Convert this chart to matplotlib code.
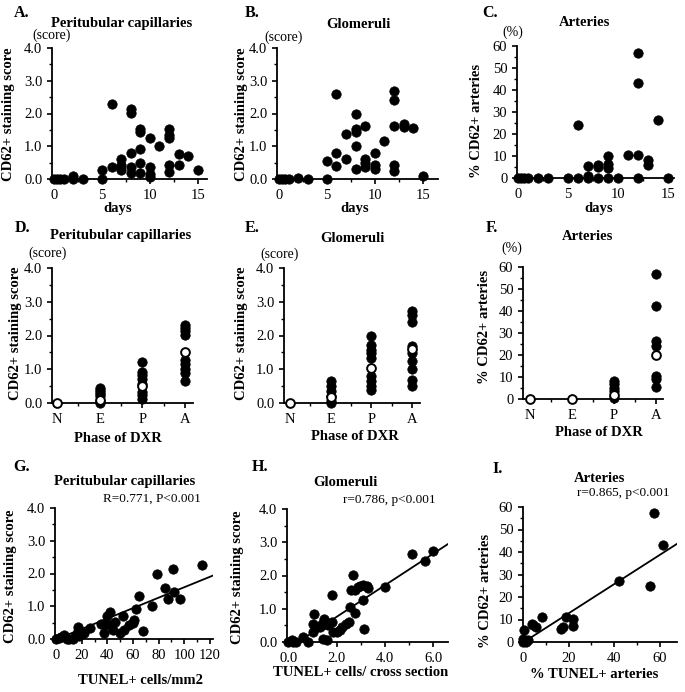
import matplotlib.pyplot as plt
from matplotlib.ticker import MultipleLocator, FormatStrFormatter

plt.rcParams['font.family'] = ['Liberation Serif', 'DejaVu Serif']

# ---- data ----
# A-C: time course (days after transplant)
a_days = [0, 0.3, 0.6, 1, 2, 2, 3, 5, 5, 6, 6, 7, 7, 7, 8, 8, 8, 8, 8, 9, 9, 9, 9, 9,
          10, 10, 10, 10, 11, 12, 12, 12, 12, 12, 13, 13, 14, 15]
a_score = [0, 0, 0, 0, 0.1, 0, 0, 0, 0.27, 0.37, 2.28, 0.6, 0.43, 0.27, 2.15, 2.03, 0.8, 0.37, 0.17,
           1.54, 1.44, 0.93, 0.5, 0.17, 1.24, 0.37, 0.15, 0.07, 1.0, 1.54, 1.34, 1.24, 0.43, 0.22,
           0.76, 0.43, 0.7, 0.27]

b_days = [0, 0.3, 0.6, 1, 2, 3, 5, 5, 6, 6, 6, 7, 7, 8, 8, 8, 8, 8, 9, 9, 9, 9, 10, 10, 10,
          11, 12, 12, 12, 12, 12, 13, 13, 14, 15]
b_score = [0, 0, 0, 0, 0.03, 0, 0, 0.55, 2.6, 0.8, 0.4, 1.38, 0.6, 2.0, 1.52, 1.45, 1.0, 0.3,
           1.62, 0.62, 0.5, 0.38, 0.8, 0.42, 0.3, 1.16, 2.7, 2.4, 1.62, 0.42, 0.25, 1.68, 1.58,
           1.57, 0.1]

c_days = [0, 0.3, 0.6, 1, 2, 3, 5, 6, 6, 7, 7, 7, 8, 8, 8, 9, 9, 9, 9, 10, 11, 12, 12, 12, 12,
          13, 13, 14, 15]
c_pct = [0, 0, 0, 0, 0, 0, 0, 0, 24, 5.5, 1, 0, 6, 5, 0, 10, 6.5, 4.5, 0, 0, 10.3, 57, 43, 10.3, 0,
         8.3, 6, 26.5, 0]

# D-F: by phase of DXR (filled = individual, open = mean)
phases = ['N', 'E', 'P', 'A']
d_vals = {'E': [0.43, 0.38, 0.33, 0.28, 0.2, 0.05, 0.0],
          'P': [1.22, 0.93, 0.83, 0.7, 0.55, 0.33, 0.23, 0.13],
          'A': [2.32, 2.22, 2.12, 2.02, 1.27, 1.17, 1.0, 0.9, 0.65]}
d_mean = [0, 0.1, 0.5, 1.5]

e_vals = {'E': [0.64, 0.5, 0.35, 0.2, 0.05, 0.0],
          'P': [2.0, 1.73, 1.58, 1.48, 1.33, 0.79, 0.64, 0.5, 0.38],
          'A': [2.72, 2.62, 2.39, 1.7, 1.48, 1.23, 1.0, 0.69, 0.49]}
e_mean = [0, 0.17, 1.05, 1.6]

f_vals = {'P': [8.3, 6.8, 5.0, 3.5, 0.5],
          'A': [56.7, 42.5, 26.4, 24.3, 10.3, 9.2, 5.3]}
f_mean = [0, 0, 2.0, 19.8]

# G-I: correlation with TUNEL+
g_x = [0, 2, 4, 6, 8, 10, 13, 15, 17, 17, 18, 19, 22, 26, 35, 37, 39, 40, 42, 42, 44, 46, 50,
       52, 53, 57, 60, 61, 62, 65, 68, 75, 79, 85, 87, 91, 92, 97, 114]
g_y = [0, 0.03, 0.06, 0.13, 0, 0, 0, 0.08, 0.23, 0.36, 0.08, 0.16, 0.18, 0.33, 0.46, 0.18, 0.47,
       0.69, 0.81, 0.43, 0.28, 0.53, 0.18, 0.69, 0.28, 0.44, 0.49, 0.59, 0.92, 1.31, 0.23, 1.02,
       2.0, 1.55, 1.22, 2.14, 1.42, 1.22, 2.27]
g_fit = (0.0159, -0.01)  # slope, intercept

h_x = [0, 0.14, 0.2, 0.34, 0.62, 0.83, 1.03, 1.03, 1.08, 1.17, 1.31, 1.38, 1.45, 1.49, 1.52,
       1.59, 1.66, 1.79, 1.79, 1.86, 2.0, 2.14, 2.23, 2.37, 2.51, 2.55, 2.6, 2.69, 2.76, 2.76,
       2.9, 2.97, 3.08, 3.1, 3.14, 3.24, 3.31, 4.0, 5.13, 5.66, 6.0]
h_y = [0, 0.07, 0, 0, 0.15, 0, 0.3, 0.55, 0.83, 0.45, 0.45, 0.55, 0.1, 0.7, 0.55, 0.05, 0.5,
       1.41, 0.6, 0.3, 0.3, 0.35, 0.45, 0.55, 0.6, 1.06, 1.56, 2.01, 1.56, 0.86, 1.66, 1.68,
       1.71, 1.26, 0.4, 1.68, 1.61, 1.64, 2.64, 2.44, 2.75]
h_fit = (0.476, -0.195)

i_x = [0, 0, 0.3, 1.5, 2, 4, 4.4, 5.9, 8.3, 16.8, 17.6, 19, 22, 22, 42, 55.6, 57.5, 61.5]
i_y = [0, 1.5, 5.5, 0, 0.7, 8, 7.4, 6.7, 11, 5.9, 6.7, 11, 10.4, 7, 27, 24.7, 57.3, 43]
i_fit = (0.65, -0.25)

# ---- figure ----
W, H = 685, 692
fig = plt.figure(figsize=(W / 100, H / 100), dpi=100)


def px_axes(x0, x1, ytop, ybot):
    return fig.add_axes([x0 / W, (H - ybot) / H, (x1 - x0) / W, (ybot - ytop) / H])


def px_text(x, y, s, size=10.5, bold=False, rot=0):
    fig.text(x / W, 1 - y / H, s, ha='center', va='center', fontsize=size,
             fontweight='bold' if bold else 'normal', rotation=rot)


def style(ax, xlim, ylim, xmaj, xmin, ymaj, ymin, xfmt, yfmt):
    ax.spines['top'].set_visible(False)
    ax.spines['right'].set_visible(False)
    ax.spines['left'].set_linewidth(1.3)
    ax.spines['bottom'].set_linewidth(1.3)
    ax.set_xlim(xlim)
    ax.set_ylim(ylim)
    ax.xaxis.set_major_locator(MultipleLocator(xmaj))
    ax.xaxis.set_minor_locator(MultipleLocator(xmin))
    ax.yaxis.set_major_locator(MultipleLocator(ymaj))
    ax.yaxis.set_minor_locator(MultipleLocator(ymin))
    if xfmt:
        ax.xaxis.set_major_formatter(FormatStrFormatter(xfmt))
    ax.yaxis.set_major_formatter(FormatStrFormatter(yfmt))
    ax.tick_params(which='major', length=3.5, width=1.2, labelsize=10.5, pad=3.5)
    ax.tick_params(which='minor', length=2.5, width=1.0)


def dots(ax, x, y):
    ax.scatter(x, y, s=46, color='black', edgecolor='black', linewidth=0.5,
               clip_on=False, zorder=3)


def phase_plot(ax, vals, means):
    for i, p in enumerate(phases):
        if p in vals:
            dots(ax, [i] * len(vals[p]), vals[p])
    ax.plot(range(4), means, 'o', ms=6.3, mfc='white', mec='black', mew=1.4,
            ls='none', clip_on=False, zorder=4)
    ax.set_xticks(range(4))
    ax.set_xticklabels(phases)
    ax.set_xticks([0.5, 1.5, 2.5], minor=True)


def fit_line(ax, fit, x0, x1):
    k, b = fit
    ax.plot([x0, x1], [k * x0 + b, k * x1 + b], color='black', lw=1.3, zorder=2)


# row 1
ax = px_axes(52, 207, 48, 179)
dots(ax, a_days, a_score)
style(ax, (-0.2, 15.95), (0, 4), 5, 2.5, 1, 0.5, '%d', '%.1f')
ax = px_axes(277, 438, 48, 179)
dots(ax, b_days, b_score)
style(ax, (-0.2, 16.6), (0, 4), 5, 2.5, 1, 0.5, '%d', '%.1f')
ax = px_axes(517, 674, 46, 178)
dots(ax, c_days, c_pct)
style(ax, (-0.1, 15.6), (0, 60), 5, 2.5, 10, 5, '%d', '%d')

# row 2
ax = px_axes(52, 193, 268, 403)
style(ax, (-0.12, 3.19), (0, 4), 1, 0.5, 1, 0.5, None, '%.1f')
phase_plot(ax, d_vals, d_mean)
ax = px_axes(284, 420, 268, 403)
style(ax, (-0.15, 3.2), (0, 4), 1, 0.5, 1, 0.5, None, '%.1f')
phase_plot(ax, e_vals, e_mean)
ax = px_axes(523, 663, 267, 399)
style(ax, (-0.17, 3.17), (0, 60), 1, 0.5, 10, 5, None, '%d')
phase_plot(ax, f_vals, f_mean)

# row 3
ax = px_axes(55, 213, 508, 639)
dots(ax, g_x, g_y)
fit_line(ax, g_fit, 0, 122.5)
style(ax, (-1, 122.5), (0, 4), 20, 10, 1, 0.5, '%d', '%.1f')
ax = px_axes(287, 448, 509, 642)
dots(ax, h_x, h_y)
fit_line(ax, h_fit, 0.4, 6.6)
style(ax, (-0.05, 6.6), (0, 4), 2, 1, 1, 0.5, '%.1f', '%.1f')
ax = px_axes(523, 677, 507, 642)
dots(ax, i_x, i_y)
fit_line(ax, i_fit, 1.0, 67.5)
style(ax, (0, 67.5), (0, 60), 20, 10, 10, 5, '%d', '%d')

# panel letters
for (x, y, s) in [(22, 13, 'A.'), (252, 13, 'B.'), (490, 13, 'C.'),
                  (23, 228, 'D.'), (252, 228, 'E.'), (492, 228, 'F.'),
                  (22, 467, 'G.'), (260, 467, 'H.'), (498, 469, 'I.')]:
    px_text(x, y, s, size=11.5, bold=True)

# titles
for (x, y, s) in [(122, 23, 'Peritubular capillaries'), (358, 25, 'Glomeruli'), (585, 23, 'Arteries'),
                  (121, 236, 'Peritubular capillaries'), (352, 238, 'Glomeruli'), (588, 236, 'Arteries'),
                  (125, 482, 'Peritubular capillaries'), (345, 482, 'Glomeruli'), (600, 479, 'Arteries')]:
    px_text(x, y, s, bold=True)

# units
for (x, y, s) in [(52, 35, '(score)'), (284, 37, '(score)'), (513, 32, '(%)'),
                  (48, 253, '(score)'), (280, 254, '(score)'), (512, 248, '(%)')]:
    px_text(x, y, s, size=10)

# y labels
for (x, y, s) in [(9, 114, 'CD62+ staining score'), (242, 114, 'CD62+ staining score'),
                  (477, 121, '% CD62+ arteries'),
                  (16, 333, 'CD62+ staining score'), (241, 333, 'CD62+ staining score'),
                  (485, 327, '% CD62+ arteries'),
                  (11, 576, 'CD62+ staining score'), (238, 577, 'CD62+ staining score'),
                  (486, 591, '% CD62+ arteries')]:
    px_text(x, y, s, bold=True, rot=90)

# x labels
for (x, y, s) in [(118, 208, 'days'), (355, 208, 'days'), (599, 208, 'days'),
                  (118, 438, 'Phase of DXR'), (355, 436, 'Phase of DXR'), (599, 432, 'Phase of DXR'),
                  (141, 680, 'TUNEL+ cells/mm2'), (361, 673, 'TUNEL+ cells/ cross section'),
                  (594, 674, '% TUNEL+ arteries')]:
    px_text(x, y, s, bold=True)

# correlation stats
px_text(152, 499, 'R=0.771, P<0.001', size=9.5)
px_text(389, 500, 'r=0.786, p<0.001', size=9.5)
px_text(623, 493, 'r=0.865, p<0.001', size=9.5)

fig.savefig('out.png', dpi=100, facecolor='white')
